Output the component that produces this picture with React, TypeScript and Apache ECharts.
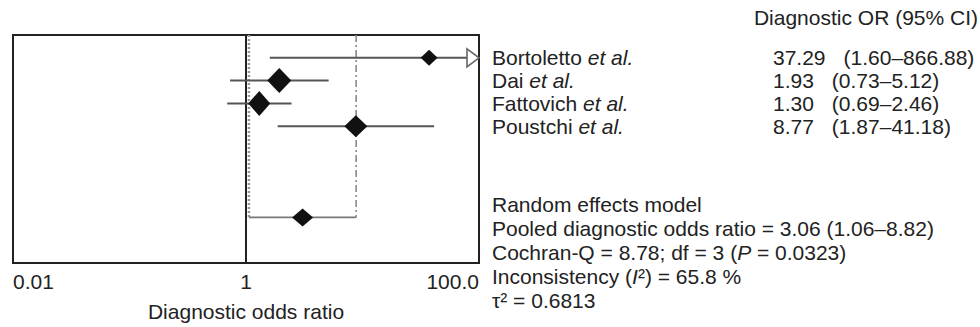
import React, { useEffect, useRef } from "react";
import * as echarts from "echarts";

const studies = ["Bortoletto", "Dai", "Fattovich", "Poustchi"];
const estimates = [37.29, 1.93, 1.3, 8.77];
const lowerCI = [1.6, 0.73, 0.69, 1.87];
const upperCI = [866.88, 5.12, 2.46, 41.18];
const studyRows = [1, 2, 3, 4];

const pooledEstimate = 3.06;
const pooledLower = 1.06;
const pooledUpper = 8.82;
const pooledRow = 8;

const xTicks = [0.01, 1, 100];
const xTickLabels = ["0.01", "1", "100.0"];
const axisMin = 0.01;
const axisMax = 100;
const rowMax = 10;

const header = "Diagnostic OR (95% CI)";
const statsLines = [
  "Random effects model",
  "Pooled diagnostic odds ratio = 3.06 (1.06–8.82)",
  "Cochran-Q = 8.78; df = 3 ({i|P} = 0.0323)",
  "Inconsistency ({i|I}²) = 65.8 %",
  "τ² = 0.6813",
];

// visual sizes of the diamonds (width, height)
const diamondSizes = [
  [17, 16],
  [24, 25],
  [22, 25],
  [23, 22],
];
const pooledDiamondSize = [21, 18];

const FONT = '"Liberation Sans", Arial, Helvetica, sans-serif';
const TXT = "#222";

export default function App() {
  const ref = useRef<HTMLDivElement>(null);

  useEffect(() => {
    if (!ref.current) return;
    const chart = echarts.init(ref.current, undefined, { renderer: "svg" });

    const ciData = studies.map((_, i) => [lowerCI[i], upperCI[i], studyRows[i]]);

    const option: any = {
      animation: false,
      backgroundColor: "#fff",
      grid: {
        left: 13,
        right: 501,
        top: 35,
        bottom: 64,
        show: true,
        borderColor: "#222",
        borderWidth: 2,
        backgroundColor: "#fff",
      },
      xAxis: {
        type: "log",
        logBase: 10,
        min: axisMin,
        max: axisMax,
        axisLine: { show: false },
        axisTick: { show: false },
        splitLine: { show: false },
        minorTick: { show: false },
        axisLabel: {
          margin: 8,
          fontSize: 21,
          fontFamily: FONT,
          color: TXT,
          alignMinLabel: "left",
          alignMaxLabel: "right",
          formatter: (v: number) => {
            const idx = xTicks.findIndex(
              (t) => Math.abs(Math.log10(v) - Math.log10(t)) < 1e-6
            );
            return idx >= 0 ? xTickLabels[idx] : "";
          },
        },
        name: "Diagnostic odds ratio",
        nameLocation: "middle",
        nameGap: 38,
        nameTextStyle: { fontSize: 21, fontFamily: FONT, color: TXT },
      },
      yAxis: {
        type: "value",
        min: 0,
        max: rowMax,
        inverse: true,
        show: false,
      },
      series: [
        {
          type: "line",
          data: [
            [1, 0],
            [1, rowMax],
          ],
          symbol: "none",
          lineStyle: { color: "#222", width: 2 },
          z: 3,
        },
        {
          type: "line",
          data: [
            [pooledLower, 0],
            [pooledLower, pooledRow],
          ],
          symbol: "none",
          lineStyle: { color: "#999", width: 2.5, type: [2, 2] },
          z: 2,
        },
        {
          type: "line",
          data: [
            [pooledUpper, 0],
            [pooledUpper, pooledRow],
          ],
          symbol: "none",
          lineStyle: { color: "#888", width: 1.6, type: [7, 3, 2, 3] },
          z: 2,
        },
        {
          type: "line",
          data: [
            [pooledLower, pooledRow],
            [pooledUpper, pooledRow],
          ],
          symbol: "none",
          lineStyle: { color: "#777", width: 1.6 },
          z: 2,
        },
        {
          type: "custom",
          clip: false,
          encode: { x: [0, 1], y: 2 },
          data: ciData,
          z: 4,
          renderItem: (params: any, api: any) => {
            const lo = api.value(0);
            const hi = api.value(1);
            const row = api.value(2);
            const p1 = api.coord([Math.max(lo, axisMin), row]);
            const p2 = api.coord([Math.min(hi, axisMax), row]);
            const clipped = hi > axisMax;
            const aw = 12;
            const ah = 9;
            const children: any[] = [
              {
                type: "line",
                shape: {
                  x1: p1[0],
                  y1: p1[1],
                  x2: clipped ? p2[0] - aw : p2[0],
                  y2: p2[1],
                },
                style: { stroke: "#555", lineWidth: 2 },
              },
            ];
            if (clipped) {
              children.push({
                type: "polygon",
                shape: {
                  points: [
                    [p2[0] - aw, p2[1] - ah],
                    [p2[0], p2[1]],
                    [p2[0] - aw, p2[1] + ah],
                  ],
                },
                style: { fill: "#fff", stroke: "#666", lineWidth: 1.6 },
              });
            }
            return { type: "group", children };
          },
        },
        {
          type: "scatter",
          symbol: "diamond",
          data: estimates.map((e, i) => ({
            value: [e, studyRows[i]],
            symbolSize: diamondSizes[i],
          })),
          itemStyle: { color: "#111", opacity: 1 },
          z: 5,
        },
        {
          type: "scatter",
          symbol: "diamond",
          data: [{ value: [pooledEstimate, pooledRow], symbolSize: pooledDiamondSize }],
          itemStyle: { color: "#111", opacity: 1 },
          z: 5,
        },
      ],
    };
    chart.setOption(option);

    const rowY = (r: number) =>
      (chart.convertToPixel({ gridIndex: 0 } as any, [1, r]) as number[])[1];

    const baseStyle = {
      fontSize: 21,
      fontFamily: FONT,
      fill: TXT,
      verticalAlign: "middle",
    };
    const rich = {
      i: { fontSize: 21, fontFamily: FONT, fontStyle: "italic", color: TXT },
      e: { fontSize: 21, fontFamily: FONT, color: TXT, padding: [0, 18, 0, 0] },
      c: { fontSize: 21, fontFamily: FONT, color: TXT },
    };

    const graphics: any[] = [
      {
        type: "text",
        style: { ...baseStyle, text: header, x: 978, y: 17, align: "right" },
      },
    ];
    studies.forEach((s, i) => {
      const y = rowY(studyRows[i]);
      graphics.push({
        type: "text",
        style: { ...baseStyle, text: `${s} {i|et al.}`, x: 492, y, align: "left", rich },
      });
      const est = estimates[i].toFixed(2);
      const ci = `(${lowerCI[i].toFixed(2)}–${upperCI[i].toFixed(2)})`;
      graphics.push({
        type: "text",
        style: { ...baseStyle, text: `{e|${est}}{c|${ci}}`, x: 773, y, align: "left", rich },
      });
    });
    const statsTop = 204;
    statsLines.forEach((line, i) => {
      graphics.push({
        type: "text",
        style: { ...baseStyle, text: line, x: 492, y: statsTop + i * 24, align: "left", rich },
      });
    });

    chart.setOption({ graphic: graphics });

    return () => chart.dispose();
  }, []);

  return (
    <div
      ref={ref}
      style={{ position: "fixed", left: 0, top: 0, width: 980, height: 327, background: "#fff" }}
    />
  );
}
